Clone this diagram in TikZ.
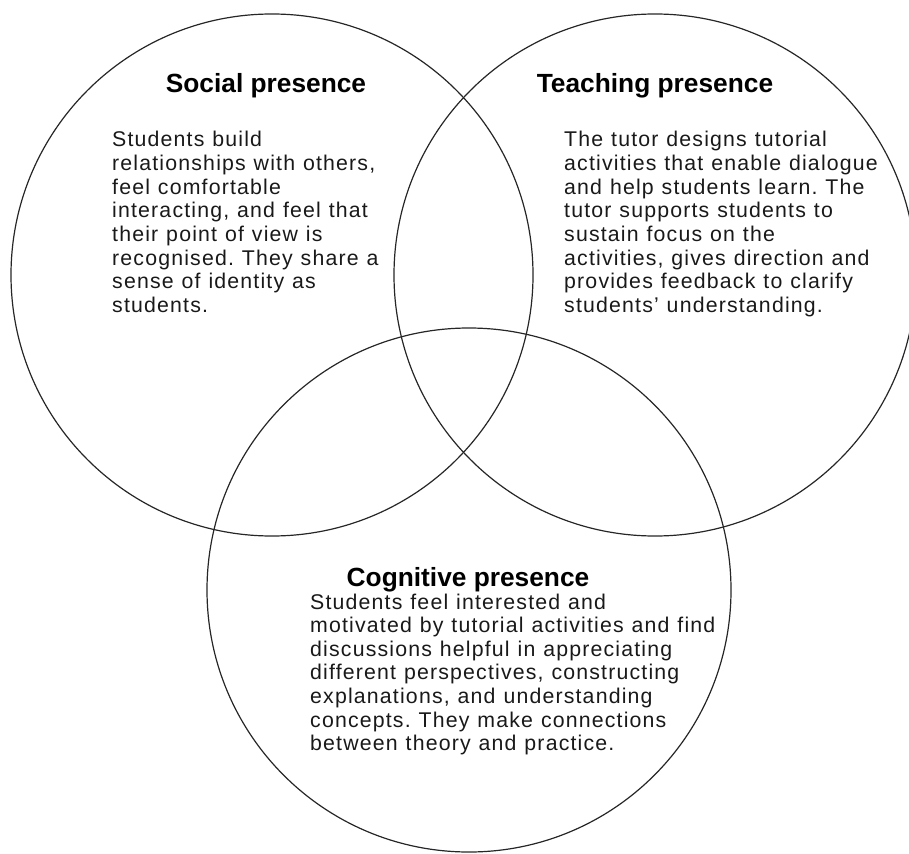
\documentclass[tikz,border=0pt]{standalone}
\usepackage{fontspec}
\setmainfont{Liberation Sans}
\newfontfamily\bodyfont[LetterSpace=5.5,WordSpace=1.12]{Liberation Sans}
\begin{document}
\frenchspacing
\begin{tikzpicture}[x=1pt,y=-1pt,
  ring/.style={draw=black!85,line width=1.2pt},
  title/.style={inner sep=0pt,anchor=base,font=\fontsize{26.3}{30}\selectfont\bfseries,text=black},
  body/.style={inner sep=0pt,anchor=base west,text=black!90}]
\useasboundingbox (0,0) rectangle (909,853);
\newcommand{\bodytext}[2]{\parbox[t]{#1pt}{\bodyfont\fontsize{21.3}{23.6}\selectfont\raggedright #2}}
\node[ring,circle,minimum size=522pt,inner sep=0pt] (soc) at (272,275) {};
\node[ring,circle,minimum size=522pt,inner sep=0pt] (tea) at (655,275) {};
\node[ring,circle,minimum size=524pt,inner sep=0pt] (cog) at (469,590) {};
\node[title] (soct) at (266,93) {Social presence};
\node[title] (teat) at (655,93) {Teaching presence};
\node[title] (cogt) at (468,586) {Cognitive presence};
\node[body] (socb) at (112,147) {\bodytext{340}{Students build\\relationships with others,\\feel comfortable\\interacting, and feel that\\their point of view is\\recognised. They share a\\sense of identity as\\students.}};
\node[body] (teab) at (564,147) {\bodytext{380}{The tutor designs tutorial\\activities that enable dialogue\\and help students learn. The\\tutor supports students to\\sustain focus on the\\activities, gives direction and\\provides feedback to clarify\\students’ understanding.}};
\node[body] (cogb) at (310,609) {\bodytext{460}{Students feel interested and\\motivated by tutorial activities and find\\discussions helpful in appreciating\\different perspectives, constructing\\explanations, and understanding\\concepts. They make connections\\between theory and practice.}};
\end{tikzpicture}
\end{document}
